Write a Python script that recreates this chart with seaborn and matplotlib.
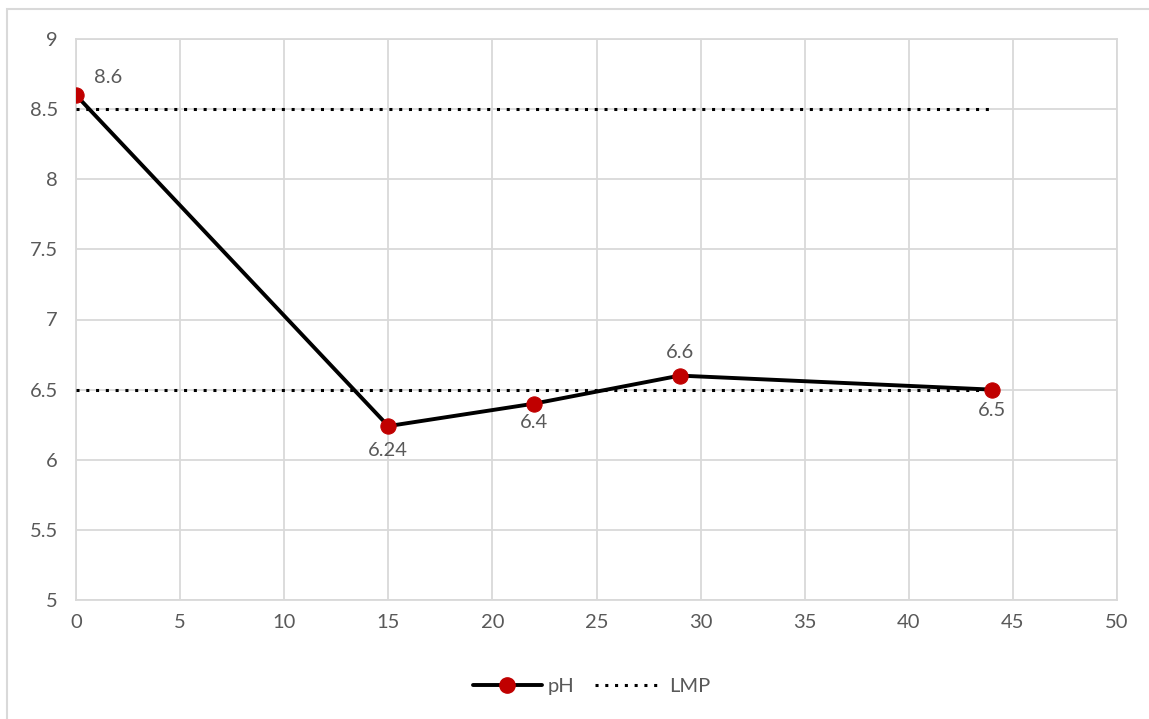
import matplotlib
matplotlib.use("Agg")
import matplotlib.pyplot as plt
import seaborn as sns
import pandas as pd
from matplotlib.patches import Rectangle
from matplotlib.lines import Line2D

# Data
days = [0, 15, 22, 29, 44]
ph_values = [8.6, 6.24, 6.4, 6.6, 6.5]
lmp_upper = 8.5
lmp_lower = 6.5
lmp_x = [0, 44]

sns.set_theme(style="white")
plt.rcParams['font.family'] = ['Lato', 'DejaVu Sans']

text_color = "#595959"
grid_color = "#d9d9d9"
fs = 14.5

fig = plt.figure(figsize=(11.49, 7.19), dpi=100)
ax = fig.add_axes([76 / 1149, 1 - 600 / 719, (1117 - 76) / 1149, (600 - 39) / 719])

df = pd.DataFrame({"x": days, "pH": ph_values})

# Limit lines (dotted)
lmp_df = pd.DataFrame({"x": lmp_x * 2,
                       "y": [lmp_upper] * 2 + [lmp_lower] * 2,
                       "g": ["hi", "hi", "lo", "lo"]})
for g, sub in lmp_df.groupby("g"):
    sns.lineplot(data=sub, x="x", y="y", ax=ax, color="black",
                 linestyle=(0, (1, 2.2)), linewidth=2.2, zorder=3)

sns.lineplot(data=df, x="x", y="pH", ax=ax, color="black", linewidth=2.8,
             marker="o", markersize=11, markerfacecolor="#c00000",
             markeredgecolor="#c00000", zorder=4)

# Data labels
offsets = [(23, 13), (0, -17.5), (0, -13.5), (0, 16.5), (0, -15)]
for x, y, (dx, dy) in zip(days, ph_values, offsets):
    ax.annotate(f"{y:g}", (x, y), xytext=(dx, dy), textcoords="offset points",
                ha="center", va="center", fontsize=fs, color=text_color)

ax.set_xlim(0, 50)
ax.set_ylim(5, 9)
ax.set_xticks(range(0, 51, 5))
ax.set_yticks([5, 5.5, 6, 6.5, 7, 7.5, 8, 8.5, 9])
ax.set_yticklabels(["5", "5.5", "6", "6.5", "7", "7.5", "8", "8.5", "9"])
ax.grid(True, color=grid_color, linewidth=1.3)
ax.set_axisbelow(True)
for s in ax.spines.values():
    s.set_color(grid_color)
    s.set_linewidth(1.3)
ax.tick_params(axis="both", colors=text_color, labelsize=fs, length=0, pad=13)
ax.tick_params(axis="x", pad=10)
ax.set_xlabel("")
ax.set_ylabel("")

# Legend
handles = [
    Line2D([], [], color="black", linewidth=2.8, marker="o", markersize=11,
           markerfacecolor="#c00000", markeredgecolor="#c00000"),
    Line2D([], [], color="black", linestyle=(0, (1, 2.2)), linewidth=2.2),
]
leg = fig.legend(handles, ["pH", "LMP"], loc="center", ncol=2,
                 bbox_to_anchor=(0.515, 1 - 686 / 719), frameon=False,
                 fontsize=fs, handlelength=3.4, columnspacing=1.0,
                 handletextpad=0.3)
for t in leg.get_texts():
    t.set_color(text_color)

# Outer chart border
fig.patches.append(Rectangle((7 / 1149, -0.05), 1.2, 1 - 9 / 719 + 0.05,
                             transform=fig.transFigure, fill=False,
                             edgecolor=grid_color, linewidth=1.5))

fig.savefig("out.png", dpi=100)
